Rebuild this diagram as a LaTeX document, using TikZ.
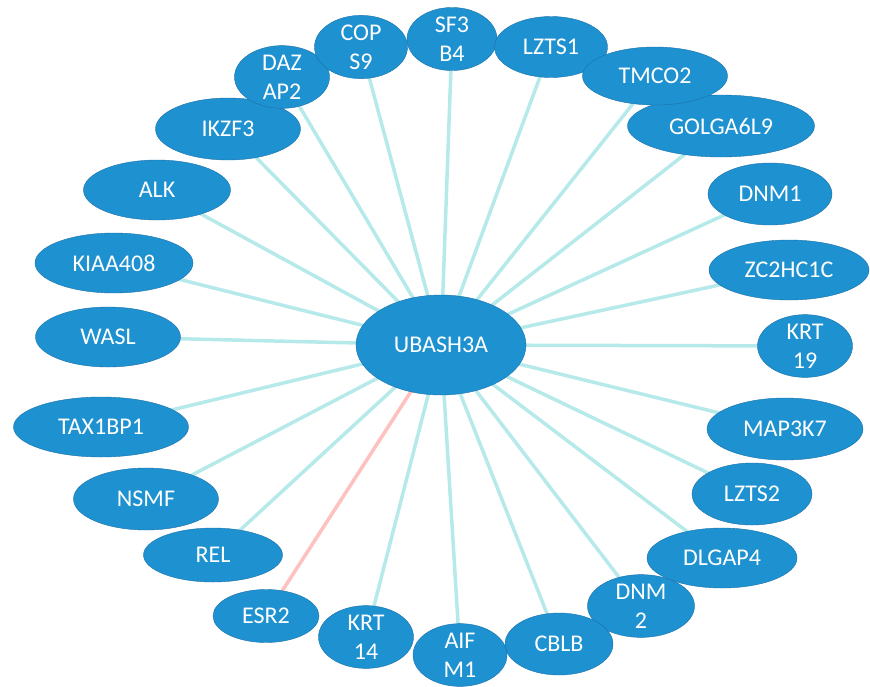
\documentclass[tikz,border=0pt]{standalone}
\usepackage{fontspec}
\setmainfont{Carlito}
\usetikzlibrary{shapes.geometric,backgrounds}

\definecolor{genefill}{RGB}{30,145,208}
\definecolor{genedraw}{RGB}{28,112,168}
\definecolor{edgecyan}{RGB}{182,233,233}
\definecolor{edgepink}{RGB}{255,192,192}

\begin{document}
\begin{tikzpicture}[x=1pt, y=-1pt, inner sep=0pt]
    \tikzstyle{gene}=[ellipse, fill=genefill, draw=genedraw, thin, text=white, align=center, font=\fontsize{24}{29}\selectfont]
    \tikzstyle{E1}=[draw=edgecyan, line width=3.5pt]
    \tikzstyle{E2}=[draw=edgepink, line width=3.5pt]

    \useasboundingbox (0,0) rectangle (870,686);

    \node[gene, minimum width=170, minimum height=100] (UBASH3A) at (441,345) {UBASH3A};

    \node[gene, minimum width=145, minimum height=62] (IKZF3) at (228,129) {IKZF3};
    \node[gene, minimum width=95, minimum height=60] (DAZAP2) at (282,77) {DAZ\\AP2};
    \node[gene, minimum width=93, minimum height=61] (COPS9) at (361,47) {COP\\S9};
    \node[gene, minimum width=90, minimum height=62] (SF3B4) at (452,39) {SF3\\B4};
    \node[gene, minimum width=187, minimum height=62] (GOLGA6L9) at (721,126) {GOLGA6L9};
    \node[gene, minimum width=113, minimum height=61] (LZTS1) at (551,47) {LZTS1};
    \node[gene, minimum width=145, minimum height=58] (TMCO2) at (655,76) {TMCO2};
    \node[gene, minimum width=124, minimum height=62] (DNM1) at (770,194) {DNM1};
    \node[gene, minimum width=160, minimum height=60] (ZC2HC1C) at (789,270) {ZC2HC1C};
    \node[gene, minimum width=95, minimum height=57] (KRT19) at (805,346) {KRT\\19};
    \node[gene, minimum width=156, minimum height=62] (MAP3K7) at (785,429) {MAP3K7};
    \node[gene, minimum width=120, minimum height=62] (LZTS2) at (752,494) {LZTS2};
    \node[gene, minimum width=150, minimum height=60] (DLGAP4) at (722,558) {DLGAP4};
    \node[gene, minimum width=107, minimum height=48] (DNM2) at (641,606) {DNM\\2};
    \node[gene, minimum width=108, minimum height=62] (CBLB) at (559,644) {CBLB};
    \node[gene, minimum width=94, minimum height=61] (AIFM1) at (460,655) {AIF\\M1};
    \node[gene, minimum width=95, minimum height=61] (KRT14) at (366,637) {KRT\\14};
    \node[gene, minimum width=106, minimum height=53] (ESR2) at (266,616) {ESR2};
    \node[gene, minimum width=139, minimum height=54] (REL) at (213,555) {REL};
    \node[gene, minimum width=145, minimum height=62] (NSMF) at (146,499) {NSMF};
    \node[gene, minimum width=175, minimum height=60] (TAX1BP1) at (101,427) {TAX1BP1};
    \node[gene, minimum width=145, minimum height=60] (WASL) at (108,337) {WASL};
    \node[gene, minimum width=158, minimum height=60] (KIAA408) at (114,263) {KIAA408};
    \node[gene, minimum width=147, minimum height=60] (ALK) at (157,190) {ALK};

    \begin{pgfonlayer}{background}
    \draw[E1] (UBASH3A.center) to (IKZF3.center);
    \draw[E1] (UBASH3A.center) to (DAZAP2.center);
    \draw[E1] (UBASH3A.center) to (COPS9.center);
    \draw[E1] (UBASH3A.center) to (SF3B4.center);
    \draw[E1] (UBASH3A.center) to (LZTS1.center);
    \draw[E1] (UBASH3A.center) to (TMCO2.center);
    \draw[E1] (UBASH3A.center) to (GOLGA6L9.center);
    \draw[E1] (UBASH3A.center) to (DNM1.center);
    \draw[E1] (UBASH3A.center) to (ZC2HC1C.center);
    \draw[E1] (UBASH3A.center) to (KRT19.center);
    \draw[E1] (UBASH3A.center) to (MAP3K7.center);
    \draw[E1] (UBASH3A.center) to (LZTS2.center);
    \draw[E1] (UBASH3A.center) to (DLGAP4.center);
    \draw[E1] (UBASH3A.center) to (DNM2.center);
    \draw[E1] (UBASH3A.center) to (CBLB.center);
    \draw[E1] (UBASH3A.center) to (AIFM1.center);
    \draw[E1] (UBASH3A.center) to (KRT14.center);
    \draw[E2] (UBASH3A.center) to (ESR2.center);
    \draw[E1] (UBASH3A.center) to (REL.center);
    \draw[E1] (UBASH3A.center) to (NSMF.center);
    \draw[E1] (UBASH3A.center) to (TAX1BP1.center);
    \draw[E1] (UBASH3A.center) to (WASL.center);
    \draw[E1] (UBASH3A.center) to (KIAA408.center);
    \draw[E1] (UBASH3A.center) to (ALK.center);
    \end{pgfonlayer}
\end{tikzpicture}
\end{document}
